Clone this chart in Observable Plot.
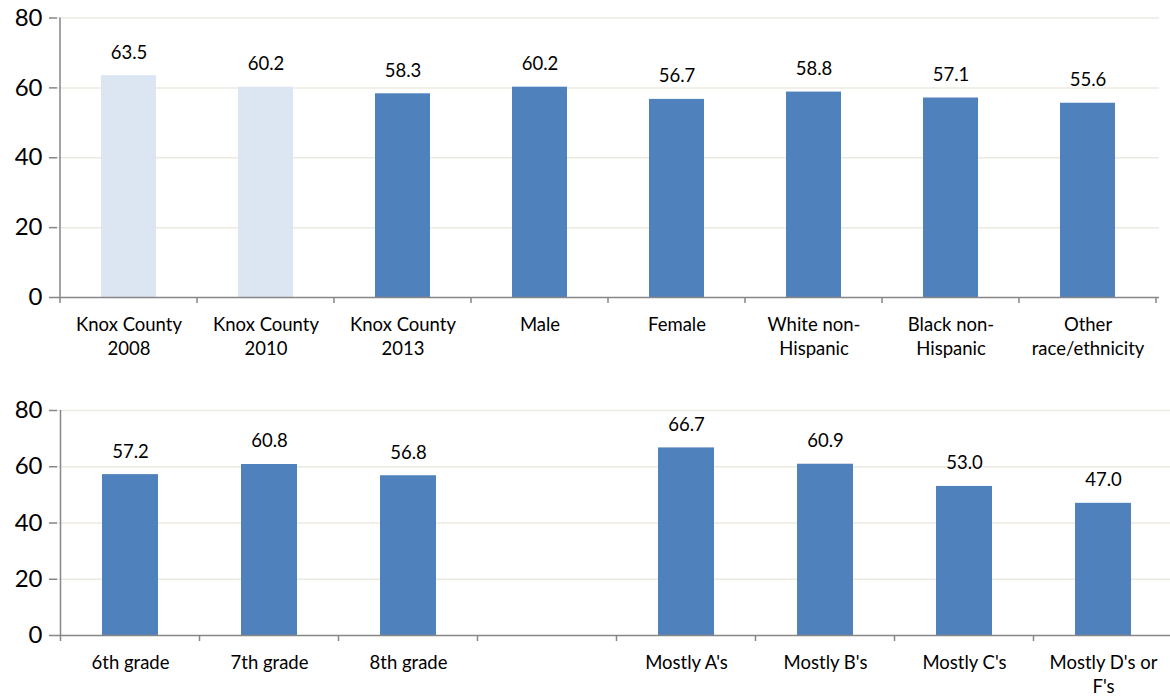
<!DOCTYPE html>
<html>
<head>
<meta charset="utf-8">
<script src="https://cdn.jsdelivr.net/npm/d3@7"></script>
<script src="https://cdn.jsdelivr.net/npm/@observablehq/plot@0.6"></script>
<style>
  html, body { margin: 0; padding: 0; background: #fff; }
  #chart svg { display: block; overflow: visible; }
</style>
</head>
<body>
<div id="chart"></div>
<script>
// ---- Data ----
const topCategories = ["Knox County\n2008", "Knox County\n2010", "Knox County\n2013", "Male", "Female", "White non-\nHispanic", "Black non-\nHispanic", "Other\nrace/ethnicity"];
const topValues = [63.5, 60.2, 58.3, 60.2, 56.7, 58.8, 57.1, 55.6];
const topGroups = ["earlier", "earlier", "current", "current", "current", "current", "current", "current"];

const bottomCategories = ["6th grade", "7th grade", "8th grade", " ", "Mostly A's", "Mostly B's", "Mostly C's", "Mostly D's or\nF's"];
const bottomValues = [57.2, 60.8, 56.8, null, 66.7, 60.9, 53.0, 47.0];
const bottomGroups = ["current", "current", "current", "current", "current", "current", "current", "current"];

const yTicks = [0, 20, 40, 60, 80];

// ---- Styles ----
const FONT = "Lato, 'Open Sans', sans-serif";
const AXIS = "#868686";
const GRID = "#ECEAE0";
const groupColors = {domain: ["earlier", "current"], range: ["#DCE6F2", "#4F81BD"]};

// Axis lines: y axis line at the left edge and category boundary ticks below the baseline
function axisLines(len) {
  return (index, scales, values, dimensions) => {
    const x = scales.x, y = scales.y;
    const dom = x.domain();
    const gap = (x.step() - x.bandwidth()) / 2;
    const xs = dom.map(d => x(d) - gap);
    xs.push(x(dom[dom.length - 1]) + x.bandwidth() + gap);
    const y0 = y(0);
    const yd = y.domain();
    const g = d3.create("svg:g").attr("stroke", AXIS).attr("stroke-width", 1.5);
    g.selectAll("line.t").data(xs).join("line").attr("class", "t")
      .attr("x1", d => d).attr("x2", d => d)
      .attr("y1", y0).attr("y2", y0 + len);
    g.append("line")
      .attr("x1", xs[0]).attr("x2", xs[0])
      .attr("y1", y(yd[0])).attr("y2", y(yd[1]));
    return g.node();
  };
}

function panel({categories, values, groups, height, marginTop, marginBottom, marginRight}) {
  const data = categories.map((c, i) => ({cat: c, value: values[i], group: groups[i]}));
  const bars = data.filter(d => d.value != null);
  return Plot.plot({
    width: 1170,
    height,
    marginLeft: 57,
    marginRight,
    marginTop,
    marginBottom,
    style: {fontFamily: FONT, color: "#000", background: "transparent"},
    x: {domain: categories, paddingInner: 0.6, paddingOuter: 0.3, axis: null},
    y: {domain: [0, 80], axis: null},
    color: groupColors,
    marks: [
      Plot.ruleY(yTicks.filter(t => t > 0), {stroke: GRID, strokeWidth: 1.5}),
      Plot.barY(bars, {x: "cat", y: "value", fill: "group"}),
      Plot.ruleY([0], {stroke: AXIS, strokeWidth: 1.5}),
      Plot.axisY({ticks: yTicks, tickSize: 8, tickPadding: 7, fontSize: 24, stroke: AXIS, strokeWidth: 1.5, label: null, fill: "#000"}),
      axisLines(6),
      Plot.text(bars, {x: "cat", y: "value", text: d => d.value.toFixed(1), dy: -23, fontSize: 18.5, fill: "#000"}),
      Plot.text(data, {x: "cat", text: "cat", frameAnchor: "bottom", lineAnchor: "top", dy: 16, fontSize: 18.5, lineHeight: 1.3, fill: "#000"})
    ]
  });
}

const chart = document.getElementById("chart");
chart.append(panel({categories: topCategories, values: topValues, groups: topGroups, height: 370, marginTop: 17.5, marginBottom: 73, marginRight: 11}));
chart.append(panel({categories: bottomCategories, values: bottomValues, groups: bottomGroups, height: 326, marginTop: 40, marginBottom: 61, marginRight: -5}));
</script>
</body>
</html>
